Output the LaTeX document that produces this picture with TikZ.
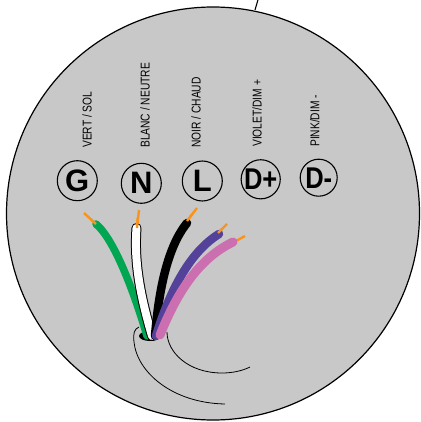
\documentclass[tikz,border=0pt]{standalone}
\usepackage{fontspec}
\setmainfont{Liberation Sans}
\newfontfamily\narrowfont[FakeStretch=0.8]{Liberation Sans}
\newfontfamily\narrowbold[FakeStretch=0.85]{Liberation Sans Bold}
\definecolor{platecol}{HTML}{C8C8C8}
\definecolor{wiregreen}{HTML}{00A651}
\definecolor{wirepurple}{HTML}{54429A}
\definecolor{wirepink}{HTML}{CB6FB0}
\definecolor{tipcol}{HTML}{F7941D}
\tikzset{
  x=1pt,y=-1pt,
  terminal/.style={circle,draw=black,line width=1.1pt,inner sep=0pt,font=\fontsize{31}{31}\selectfont\bfseries},
  termnarrow/.style={circle,draw=black,line width=1.1pt,inner sep=0pt,font=\fontsize{30}{30}\narrowbold},
  colourlabel/.style={rotate=90,anchor=west,inner sep=0pt,font=\fontsize{12.8}{13}\narrowfont},
  wire/.style={line cap=round,line join=round},
  tip/.style={draw=tipcol,line width=2.4pt},
  thin curve/.style={draw=black,line width=0.8pt},
}
\begin{document}
\begin{tikzpicture}
\useasboundingbox (0,0) rectangle (420,422);
\draw[line width=1.1pt] (255,10) -- (258.5,-2);
\draw[fill=platecol,line width=1.2pt] (213,213.5) circle[radius=206.5];
% labels
\node[colourlabel] (lg) at (87,148) {VERT / SOL};
\node[colourlabel] (ln) at (145,148) {BLANC / NEUTRE};
\node[colourlabel] (ll) at (196,148) {NOIR / CHAUD};
\node[colourlabel] (ld) at (257,147) {VIOLET/DIM +};
\node[colourlabel] (lm) at (314.7,147) {PINK/DIM -};
% terminals
\node[terminal,minimum size=40pt] (G) at (77.3,180.7) {G};
\node[terminal,minimum size=40pt] (N) at (141.3,183.3) {N};
\node[terminal,minimum size=40pt] (L) at (202.3,181) {L};
\node[termnarrow,minimum size=37pt] (Dp) at (260.7,179.3) {D+};
\node[termnarrow,minimum size=37pt] (Dm) at (318.7,177.7) {D-};
% cable sheath
\fill (150,336) ellipse[x radius=11,y radius=5];
\draw[thin curve] (139,327) .. controls (134,329) and (133,334) .. (134,342)
  .. controls (137,372) and (172,403) .. (225,404);
\draw[thin curve] (167,332) .. controls (167,352) and (188,373) .. (222,373)
  .. controls (232,373) and (242,371) .. (250,367);
% tips
\draw[tip] (84,213) -- (96,224);
\draw[tip] (139,210) -- (137,228);
\draw[tip] (197,208) -- (187,221);
\draw[tip] (227,224) -- (218,233);
\draw[tip] (245,236) -- (236,241);
% wires
\draw[wire,draw=wiregreen,line width=7.5pt] (96,224) .. controls (115,240) and (135,295) .. (147,336);
\draw[wire,draw=black,line width=10pt] (136.5,228) .. controls (134,262) and (140,295) .. (152,336);
\draw[wire,draw=white,line width=8pt] (136.5,228) .. controls (134,262) and (140,295) .. (152,336);
\draw[wire,draw=black,line width=8.5pt] (187,223) .. controls (165,250) and (158,300) .. (155,336);
\draw[wire,draw=wirepurple,line width=8.5pt] (219,234) .. controls (190,252) and (170,290) .. (156,336);
\draw[wire,draw=wirepink,line width=9pt] (233,242) .. controls (200,258) and (178,290) .. (160,335);
% tips that sit on top of the wire ends
\draw[tip] (91,219.5) -- (96,224);
\draw[tip] (137.7,218) -- (137,228);
\draw[tip] (192,214.5) -- (187,221);
\draw[tip] (222.5,228.5) -- (218,233);
\end{tikzpicture}
\end{document}
